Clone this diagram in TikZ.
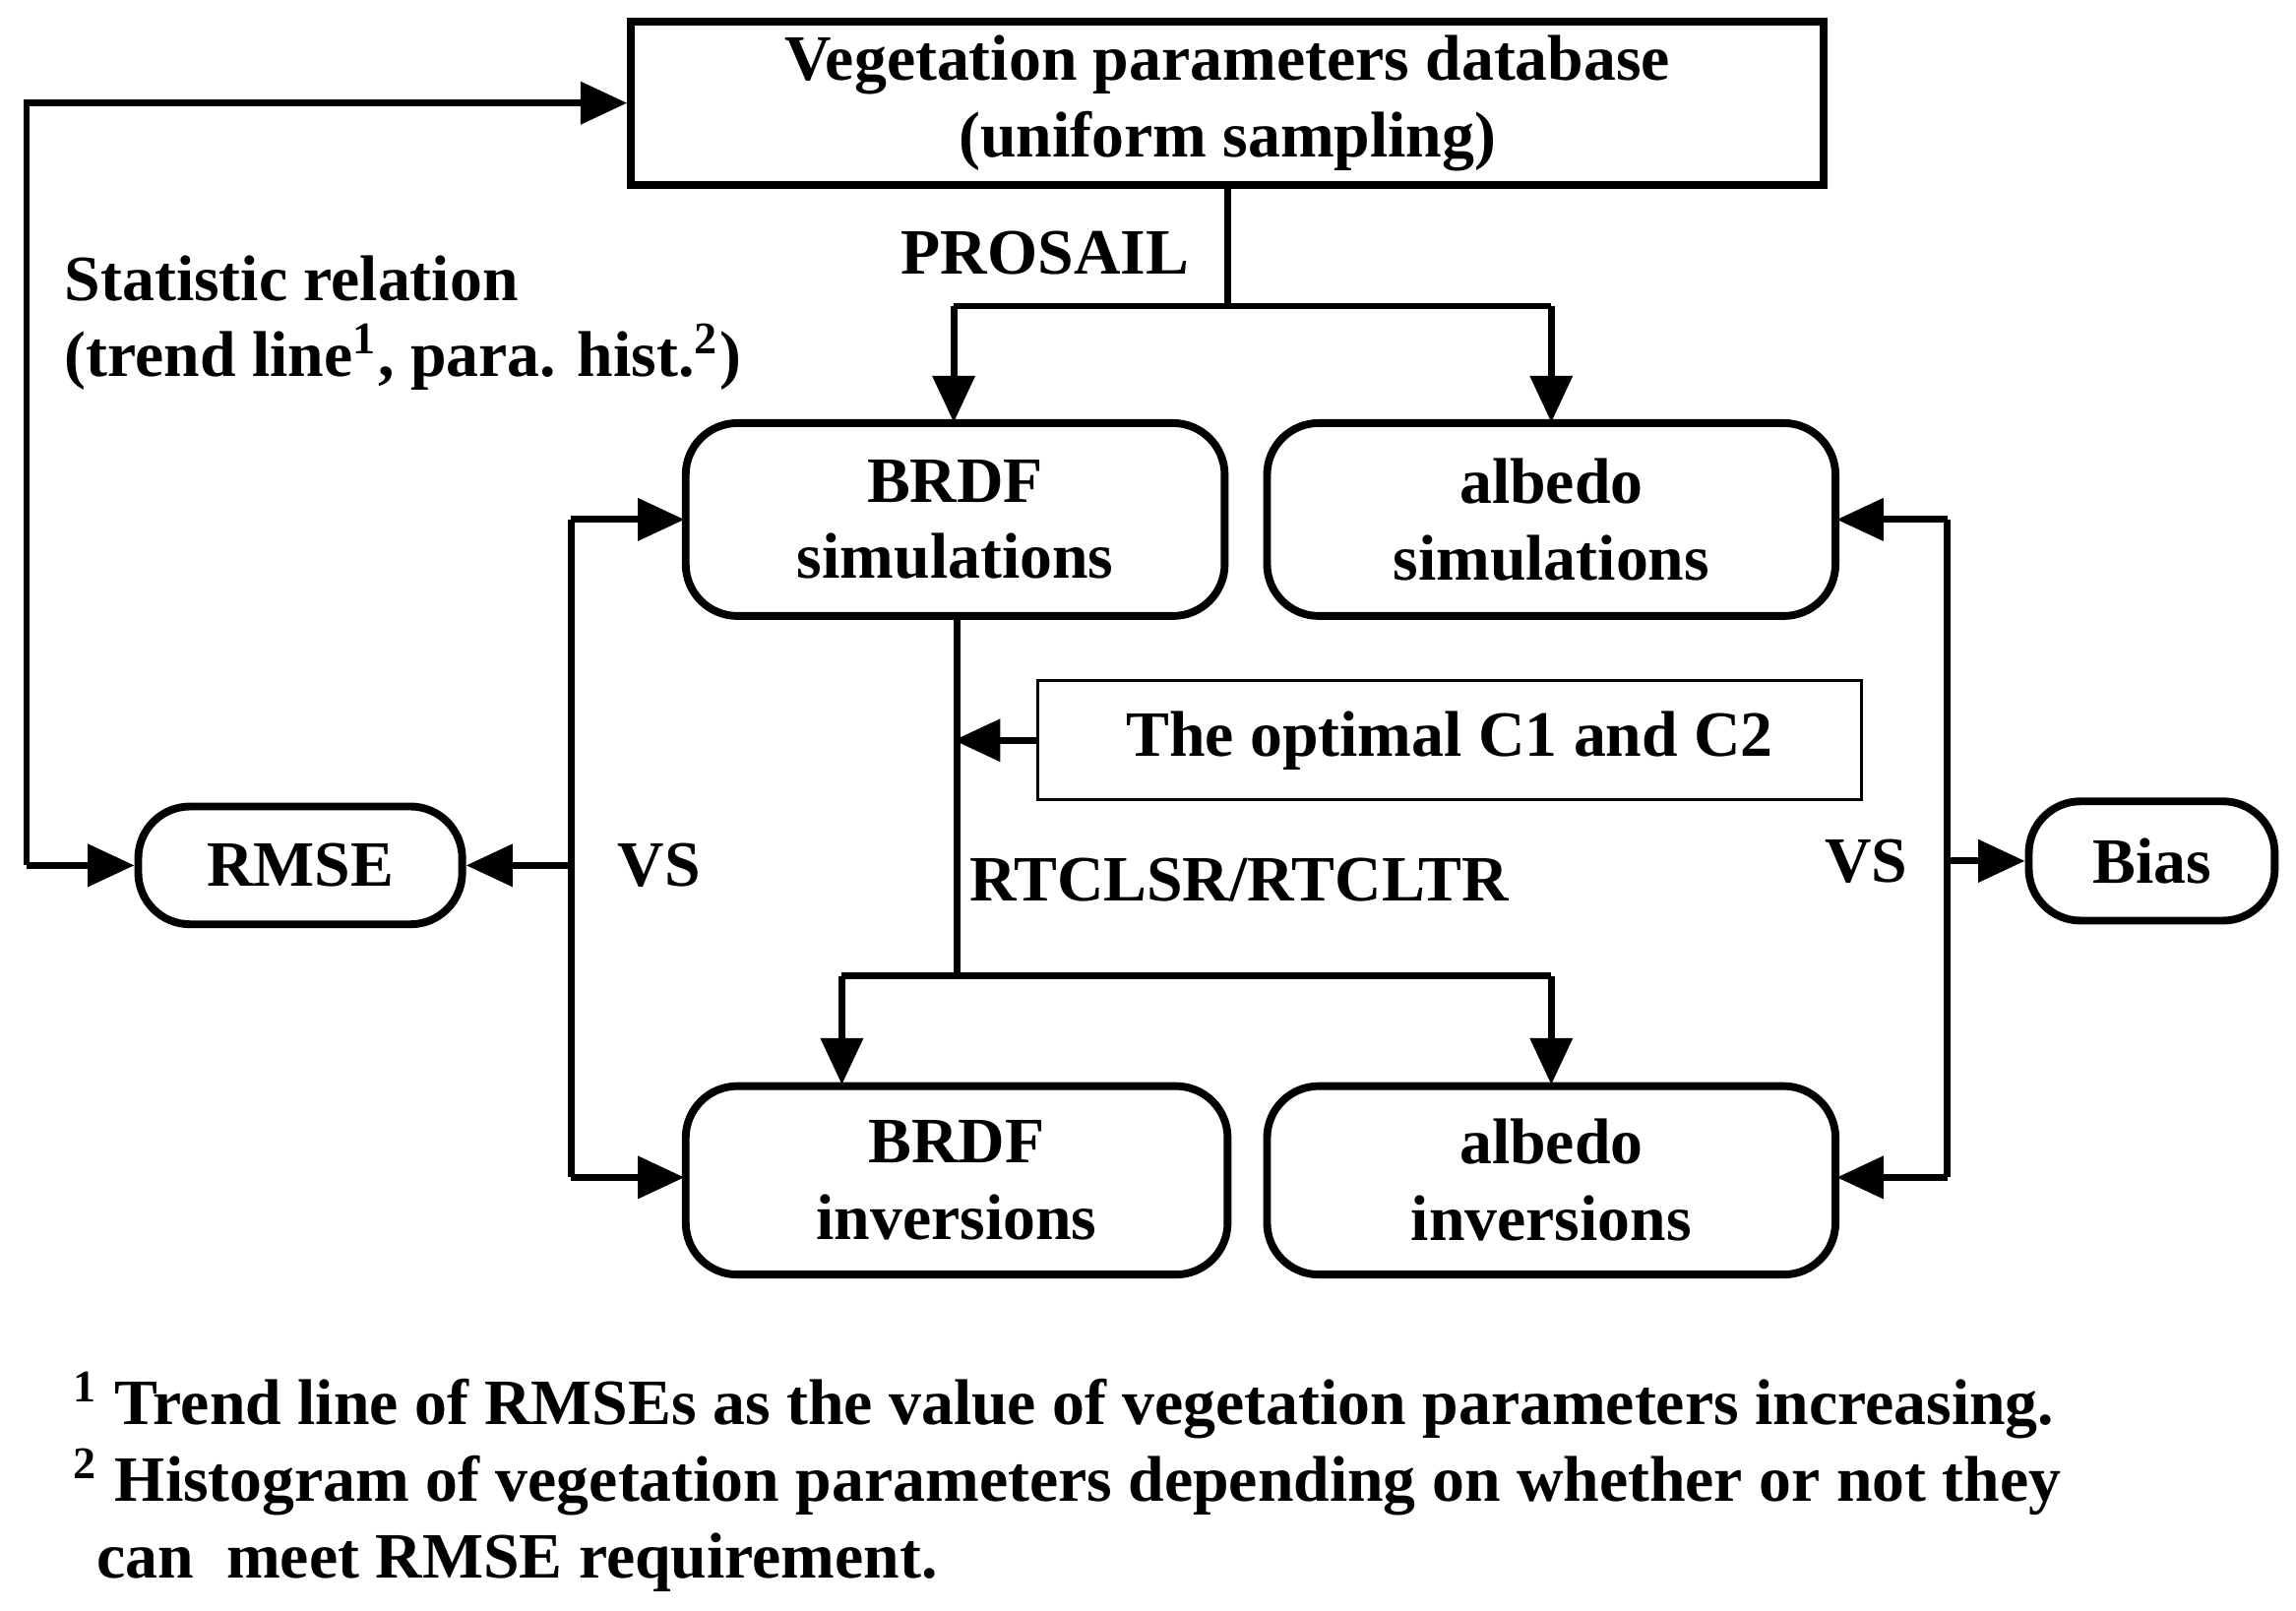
\documentclass[tikz,border=0pt]{standalone}
\usepackage{fontspec}
\setmainfont{Liberation Serif}
\usetikzlibrary{arrows.meta}
\begin{document}
\begin{tikzpicture}[x=0.01cm,y=-0.01cm,line width=1.3pt,
  every node/.style={font=\fontsize{12.5}{14.8}\selectfont\bfseries},
  box/.style={draw,line width=1.5pt,rounded corners=10pt,align=center,inner sep=0pt},
  sq/.style={draw,line width=1.5pt,align=center,inner sep=0pt},
  arr/.style={-{Triangle[length=9pt,width=8pt]}}]
\useasboundingbox (0,0) rectangle (1560,1094);
\node[sq,minimum width=8.10cm,minimum height=1.11cm] (db) at (834,70) {Vegetation parameters database\\(uniform sampling)};
\node[box,minimum width=3.66cm,minimum height=1.31cm] (bs) at (649,353) {BRDF\\simulations};
\node[box,minimum width=3.86cm,minimum height=1.31cm] (as) at (1054,353) {albedo\\simulations};
\node[box,minimum width=3.68cm,minimum height=1.28cm] (bi) at (650,802) {BRDF\\inversions};
\node[box,minimum width=3.86cm,minimum height=1.28cm] (ai) at (1054,802) {albedo\\inversions};
\node[draw,line width=0.6pt,minimum width=5.59cm,minimum height=0.81cm,inner sep=0pt] (opt) at (985,503) {The optimal C1 and C2};
\node[box,minimum width=2.20cm,minimum height=0.80cm] (rmse) at (204,588) {RMSE};
\node[box,minimum width=1.67cm,minimum height=0.81cm] (bias) at (1462,585) {Bias};
\node at (710,172) {PROSAIL};
\node at (842,598) {RTCLSR/RTCLTR};
\node at (448,588) {VS};
\node at (1268,585) {VS};
\node[anchor=base west] at (30,204) {Statistic relation};
\node[anchor=base west] at (30,256) {(trend line\textsuperscript{1}, para. hist.\textsuperscript{2})};
\node[anchor=base west] at (36,968) {\textsuperscript{1} Trend line of RMSEs as the value of vegetation parameters increasing.};
\node[anchor=base west] at (36,1020) {\textsuperscript{2} Histogram of vegetation parameters depending on whether or not they};
\node[anchor=base west] at (52,1072) {can\ \ meet RMSE requirement.};
\coordinate (p1) at (834,208);
\draw (db.south -| p1) -- (p1);
\draw[arr] (648,208) -- (648,287);
\draw[arr] (1054,208) -- (1054,287);
\draw (648,208) -- (1054,208);
\draw (650,420) -- (650,663);
\draw (572,663) -- (1054,663);
\draw[arr] (572,663) -- (572,737);
\draw[arr] (1054,663) -- (1054,737);
\draw[arr] (opt.west) -- (648,503);
\draw[arr] (388,588) -- (rmse.east);
\draw[arr] (388,353) -- (465,353);
\draw[arr] (388,800) -- (465,800);
\draw (388,353) -- (388,800);
\draw[arr] (18,588) -- (rmse.west);
\draw[arr] (18,588) -- (18,70) -- (db.west);
\draw (1323,353) -- (1323,800);
\draw[arr] (1323,353) -- (1248,353);
\draw[arr] (1323,800) -- (1248,800);
\draw[arr] (1323,585) -- (bias.west);
\end{tikzpicture}
\end{document}
